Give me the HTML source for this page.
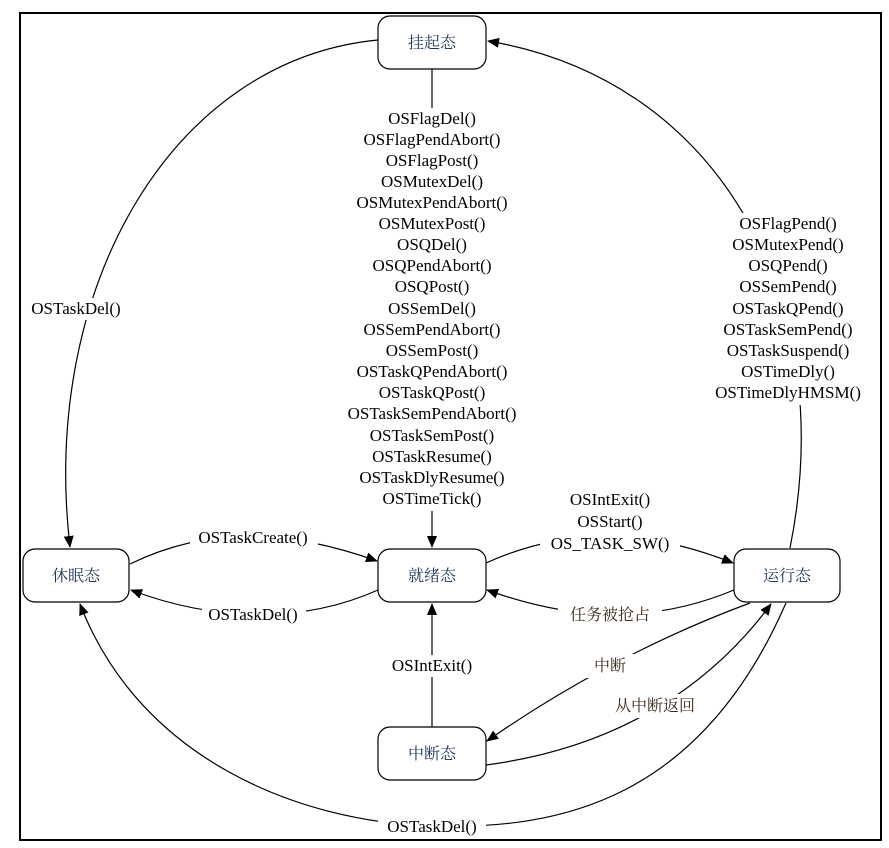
<!DOCTYPE html>
<html><head><meta charset="utf-8"><style>
html,body{margin:0;padding:0;background:#fff}
svg{display:block}
text{font-family:"Liberation Serif",serif;font-size:17px;fill:#000}
.cn{font-family:"Liberation Serif","Noto Serif CJK SC",serif;font-size:16px;fill:#1c3558}
.el{font-family:"Liberation Serif","Noto Serif CJK SC",serif;font-size:16px;fill:#3a2a1a}
</style></head><body>
<svg width="889" height="848" viewBox="0 0 889 848" xmlns="http://www.w3.org/2000/svg">
<defs><marker id="a" markerWidth="12" markerHeight="10" refX="11" refY="5" orient="auto" markerUnits="userSpaceOnUse"><path d="M0,0 L12,5 L0,10 Z" fill="#000"/></marker></defs>
<rect x="20" y="13" width="861" height="827" fill="none" stroke="#000" stroke-width="2"/>
<g fill="none" stroke="#000" stroke-width="1.2">
<path d="M378,40 C170,60 40,290 70,547" marker-end="url(#a)"/>
<path d="M790,548 C840,300 720,80 488,41" marker-end="url(#a)"/>
<path d="M432,69 L432,547" marker-end="url(#a)"/>
<path d="M130,564 C210,525 290,530 377,561" marker-end="url(#a)"/>
<path d="M378,590 C300,625 210,620 131,590" marker-end="url(#a)"/>
<path d="M486,563 C570,525 650,530 733,563" marker-end="url(#a)"/>
<path d="M734,590 C650,625 570,620 487,590" marker-end="url(#a)"/>
<path d="M432,727 L432,604" marker-end="url(#a)"/>
<path d="M750,603 C650,640 560,690 487,741" marker-end="url(#a)"/>
<path d="M486,765 C600,750 700,700 771,604" marker-end="url(#a)"/>
<path d="M786,603 C700,800 560,830 432,826 C300,822 140,760 80,604" marker-end="url(#a)"/>
</g>
<g fill="#fff">
<rect x="346" y="108" width="184" height="403"/>
<rect x="706" y="213" width="164" height="192"/>
<rect x="540" y="488" width="140" height="64"/>
<rect x="26" y="298" width="100" height="22"/>
<rect x="190" y="527" width="128" height="22"/>
<rect x="202" y="604" width="104" height="22"/>
<rect x="382" y="655" width="100" height="22"/>
<rect x="378" y="816" width="108" height="22"/>
<rect x="558" y="603" width="104" height="24"/>
<rect x="586" y="654" width="48" height="24"/>
<rect x="604" y="694" width="102" height="24"/>
</g>
<g fill="#fff" stroke="#000" stroke-width="1.2">
<rect x="378" y="16" width="108" height="53" rx="12"/>
<rect x="23" y="549" width="106" height="53" rx="12"/>
<rect x="378" y="549" width="108" height="53" rx="12"/>
<rect x="734" y="549" width="106" height="53" rx="12"/>
<rect x="378" y="727" width="108" height="53" rx="12"/>
</g>
<g text-anchor="middle">
<text class="cn" x="432" y="48">挂起态</text>
<text class="cn" x="76" y="581">休眠态</text>
<text class="cn" x="432" y="581">就绪态</text>
<text class="cn" x="787" y="581">运行态</text>
<text class="cn" x="432" y="759">中断态</text>
<text x="76" y="314">OSTaskDel()</text>
<text x="253" y="543">OSTaskCreate()</text>
<text x="253" y="620">OSTaskDel()</text>
<text x="432" y="671">OSIntExit()</text>
<text x="432" y="832">OSTaskDel()</text>
<text class="el" x="610" y="620">任务被抢占</text>
<text class="el" x="610" y="671">中断</text>
<text class="el" x="655" y="711">从中断返回</text>
<text x="610" y="505">OSIntExit()</text>
<text x="610" y="527">OSStart()</text>
<text x="610" y="549">OS_TASK_SW()</text>
<text x="432" y="124">OSFlagDel()</text>
<text x="432" y="145">OSFlagPendAbort()</text>
<text x="432" y="166">OSFlagPost()</text>
<text x="432" y="187">OSMutexDel()</text>
<text x="432" y="208">OSMutexPendAbort()</text>
<text x="432" y="229">OSMutexPost()</text>
<text x="432" y="250">OSQDel()</text>
<text x="432" y="271">OSQPendAbort()</text>
<text x="432" y="292">OSQPost()</text>
<text x="432" y="314">OSSemDel()</text>
<text x="432" y="335">OSSemPendAbort()</text>
<text x="432" y="356">OSSemPost()</text>
<text x="432" y="377">OSTaskQPendAbort()</text>
<text x="432" y="398">OSTaskQPost()</text>
<text x="432" y="419">OSTaskSemPendAbort()</text>
<text x="432" y="441">OSTaskSemPost()</text>
<text x="432" y="462">OSTaskResume()</text>
<text x="432" y="483">OSTaskDlyResume()</text>
<text x="432" y="504">OSTimeTick()</text>
<text x="788" y="229">OSFlagPend()</text>
<text x="788" y="250">OSMutexPend()</text>
<text x="788" y="271">OSQPend()</text>
<text x="788" y="292">OSSemPend()</text>
<text x="788" y="314">OSTaskQPend()</text>
<text x="788" y="335">OSTaskSemPend()</text>
<text x="788" y="356">OSTaskSuspend()</text>
<text x="788" y="377">OSTimeDly()</text>
<text x="788" y="398">OSTimeDlyHMSM()</text>
</g>
</svg>
</body></html>
